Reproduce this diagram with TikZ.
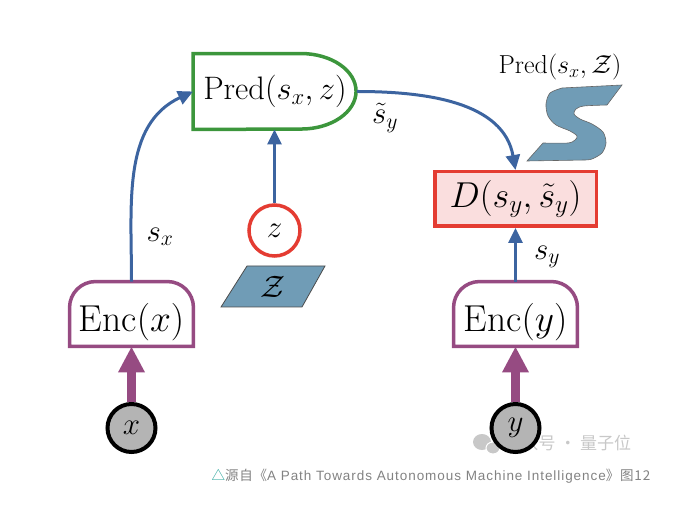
\RequirePackage{fix-cm}
\documentclass[tikz,border=0pt]{standalone}
\usepackage{amsmath, amssymb}
\usepackage{fontspec}
\usepackage{xcolor}
\usepackage{tikz}
\usetikzlibrary{arrows.meta}
\newfontfamily\cjk[LetterSpace=6]{Noto Sans CJK SC}
\newfontfamily\markfont{Noto Sans CJK SC}
\newfontfamily\capfont[LetterSpace=7]{Liberation Sans}
\newcommand{\fsz}[1]{\fontsize{#1}{#1}\selectfont}
\definecolor{arrowblue}{RGB}{60,100,160}
\definecolor{predgreen}{RGB}{60,150,60}
\definecolor{dred}{RGB}{228,60,50}
\definecolor{dpink}{RGB}{250,222,222}
\definecolor{encpurple}{RGB}{150,75,130}
\definecolor{setblue}{RGB}{112,156,182}
\definecolor{nodegray}{RGB}{180,180,180}
\definecolor{markgray}{RGB}{200,200,200}
\definecolor{capgray}{RGB}{130,130,130}
\definecolor{capteal}{RGB}{30,160,150}

\begin{document}
\begin{tikzpicture}[x=1pt,y=1pt,
	lbl/.style={font=\fsz{31}},
	predbox/.style={minimum width=163.5pt,minimum height=75.5pt,inner sep=0pt,font=\fsz{32.5}},
	encbox/.style={minimum width=123.5pt,minimum height=64.5pt,inner sep=0pt,text height=44pt,text depth=9pt,font=\fsz{37.5}},
	encline/.style={draw=encpurple,line width=3.5pt},
	predline/.style={draw=predgreen,line width=3.5pt},
	dbox/.style={draw=dred,fill=dpink,line width=3.5pt,minimum width=161.5pt,minimum height=54.5pt,inner sep=0pt,font=\fsz{36}},
	zvar/.style={circle,draw=dred,fill=white,line width=3.5pt,minimum size=51pt,inner sep=0pt,font=\fsz{31}},
	obs/.style={circle,draw=black,fill=nodegray,line width=4pt,minimum size=48pt,inner sep=0pt,font=\fsz{31}},
	zset/.style={draw=black!70,fill=setblue,line width=0.8pt},
	sshape/.style={draw=black!60,fill=setblue,line width=0.6pt},
	flow/.style={color=arrowblue,line width=3pt,-{Triangle[length=15pt,width=14pt]}},
	feed/.style={color=encpurple,line width=8.5pt,-{Triangle[length=26pt,width=25pt]}}]
		\useasboundingbox (0,0) rectangle (676,506);
		% watermark
		\fill[markgray] (482,64) ellipse (9 and 8);
		\filldraw[fill=markgray,draw=white,line width=1pt] (493,58) ellipse (7 and 6);
		\node[text=markgray,font=\markfont\fsz{17},anchor=west] (mark) at (501,63) {公众号 · 量子位};
		%
		\node[obs] (x) at (131.5,78) {$x$};
		\node[obs] (y) at (515.5,78) {$y$};
		\node[encbox] (encx) at (131.5,192) {$\mathrm{Enc}(x)$};
		\node[encbox] (ency) at (515.5,192) {$\mathrm{Enc}(y)$};
		\node[predbox] (pred) at (275,414.5) {$\mathrm{Pred}(s_x,z)$};
		\node[zvar] (z) at (274.5,275.5) {$z$};
		\node[dbox] (dist) at (515.5,307) {$D(s_y,\tilde{s}_y)$};
		%
		\draw[encline] (encx.south west) -- ([yshift=-26pt]encx.north west) arc[start angle=180,end angle=90,radius=26pt] -- ([xshift=-26pt]encx.north east) arc[start angle=90,end angle=0,radius=26pt] -- (encx.south east) -- cycle;
		\draw[encline] (ency.south west) -- ([yshift=-26pt]ency.north west) arc[start angle=180,end angle=90,radius=26pt] -- ([xshift=-26pt]ency.north east) arc[start angle=90,end angle=0,radius=26pt] -- (ency.south east) -- cycle;
		\draw[predline] (pred.north west) -- ([xshift=108pt]pred.north west) arc[start angle=90,end angle=-90,x radius=55pt,y radius=37.75pt] -- (pred.south west) -- cycle;
		%
		\draw[zset] (247,240) -- (325,240) -- (302,199) -- (221,199) -- cycle;
		\node[lbl] (Zset) at (273,219) {$\mathcal{Z}$};
		\draw[sshape] (527,345) -- (543,363) -- plot[smooth] coordinates {(543,363) (568,363) (575,366) (577,370) (570,375) (556,381) (548,390) (546,402) (550,413) (562,418)} -- (622,421) -- (607,401) -- plot[smooth] coordinates {(607,401) (584,400) (576,397) (574,392) (580,387) (592,382) (603,374) (606,363) (602,353) (592,347) (585,346)} -- cycle;
		\node[font=\fsz{26}] (predset) at (560,439) {$\mathrm{Pred}(s_x,\mathcal{Z})$};
		%
		\node[lbl] (sx) at (160,269) {$s_x$};
		\node[lbl] (sytilde) at (385,388) {$\tilde{s}_y$};
		\node[lbl] (sy) at (547,249) {$s_y$};
		%
		\path[flow]
		% into the predictor
		(encx.north) edge[out=90,in=205] (pred.west)
		(z.north) edge (z.north |- pred.south)
		% into the energy
		(pred.east) edge[out=0,in=100] (dist.north)
		(ency.north) edge (dist.south);
		\path[feed]
		(x) edge (encx)
		(y) edge (ency);
		%
		\node[anchor=west,text=capgray,font=\fsz{13.5}] (cap) at (208,30) {\cjk\textcolor{capteal}{△}源自《\capfont A Path Towards Autonomous Machine Intelligence\cjk》图12};
	\end{tikzpicture}
\end{document}
